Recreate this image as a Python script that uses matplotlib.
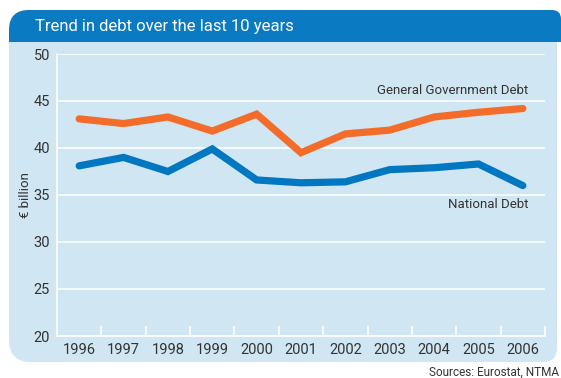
import matplotlib
matplotlib.use("Agg")
import matplotlib.pyplot as plt
from matplotlib.path import Path
from matplotlib.patches import PathPatch

years = ["1996", "1997", "1998", "1999", "2000", "2001",
         "2002", "2003", "2004", "2005", "2006"]
general_gov_debt = [43.1, 42.6, 43.3, 41.8, 43.6, 39.5, 41.5, 41.9, 43.3, 43.8, 44.2]
national_debt = [38.1, 39.0, 37.5, 39.9, 36.6, 36.3, 36.4, 37.7, 37.9, 38.3, 36.0]
y_ticks = [20, 25, 30, 35, 40, 45, 50]

FONT = ["DejaVu Sans Condensed", "Liberation Sans Narrow", "Roboto",
        "Liberation Sans", "DejaVu Sans"]
plt.rcParams["font.family"] = FONT

W, H = 561, 378
fig = plt.figure(figsize=(W / 100, H / 100), dpi=100)

HEADER_BLUE = "#0a7ac2"
BODY_BLUE = "#d0e7f3"
ORANGE = "#f36c2a"
LINE_BLUE = "#0077c0"
TEXT = "#333333"


def rounded_path(x0, y0, x1, y1, r_tl, r_tr, r_br, r_bl):
    """Rectangle in pixel coords (y downwards) with per-corner radii,
    returned as a Path in figure fractions."""
    def p(x, y):
        return (x / W, 1 - y / H)
    verts, codes = [], []
    verts.append(p(x0 + r_tl, y0)); codes.append(Path.MOVETO)
    verts.append(p(x1 - r_tr, y0)); codes.append(Path.LINETO)
    verts += [p(x1, y0), p(x1, y0 + r_tr)]; codes += [Path.CURVE3] * 2
    verts.append(p(x1, y1 - r_br)); codes.append(Path.LINETO)
    verts += [p(x1, y1), p(x1 - r_br, y1)]; codes += [Path.CURVE3] * 2
    verts.append(p(x0 + r_bl, y1)); codes.append(Path.LINETO)
    verts += [p(x0, y1), p(x0, y1 - r_bl)]; codes += [Path.CURVE3] * 2
    verts.append(p(x0, y0 + r_tl)); codes.append(Path.LINETO)
    verts += [p(x0, y0), p(x0 + r_tl, y0)]; codes += [Path.CURVE3] * 2
    verts.append(p(x0 + r_tl, y0)); codes.append(Path.CLOSEPOLY)
    return Path(verts, codes)


# panel body and header band, kept beneath the axes
fig.patches.append(PathPatch(rounded_path(9, 10, 557, 362, 20, 9, 14, 22),
                             transform=fig.transFigure, facecolor=BODY_BLUE,
                             edgecolor="none", zorder=-2))
fig.patches.append(PathPatch(rounded_path(9, 10, 561, 42, 20, 9, 0, 0),
                             transform=fig.transFigure, facecolor=HEADER_BLUE,
                             edgecolor="none", zorder=-1))
fig.text(35 / W, 1 - 27 / H, "Trend in debt over the last 10 years",
         color="white", fontsize=12, va="center", ha="left")

ax = fig.add_axes([57 / W, 1 - 336 / H, (545 - 57) / W, (336 - 54) / H])
ax.set_zorder(2)
ax.patch.set_alpha(0)
x = list(range(len(years)))

ax.plot(x, general_gov_debt, color=ORANGE, lw=5.2, solid_capstyle="round",
        solid_joinstyle="miter", zorder=3)
ax.plot(x, national_debt, color=LINE_BLUE, lw=5.2, solid_capstyle="round",
        solid_joinstyle="miter", zorder=3)

ax.set_xlim(-0.5, len(years) - 0.5)
ax.set_ylim(20, 50)
ax.set_yticks(y_ticks)
ax.set_yticklabels([str(v) for v in y_ticks])
ax.set_xticks(x)
ax.set_xticklabels(years)
ax.set_xticks([i + 0.5 for i in range(len(years))], minor=True)

ax.tick_params(axis="x", which="major", length=0, pad=5, labelsize=10.5,
               labelcolor=TEXT)
ax.tick_params(axis="x", which="minor", direction="in", length=7, width=1.2,
               color="white")
ax.tick_params(axis="y", length=0, pad=5, labelsize=10.5, labelcolor=TEXT)

ax.grid(axis="y", color="white", lw=1.1, zorder=1)
ax.set_axisbelow(True)
for side in ("top", "right"):
    ax.spines[side].set_visible(False)
for side in ("left", "bottom"):
    ax.spines[side].set_color("white")
    ax.spines[side].set_linewidth(1.2)

ax.set_ylabel("€ billion", fontsize=9.5, color=TEXT, labelpad=1)

ax.text(10.12, 46.1, "General Government Debt", ha="right", va="center",
        fontsize=9.5, color=TEXT)
ax.text(10.12, 34.0, "National Debt", ha="right", va="center",
        fontsize=9.5, color=TEXT)

fig.text(559 / W, 1 - 372 / H, "Sources: Eurostat, NTMA", ha="right",
         va="center", fontsize=8.5, color=TEXT)

fig.savefig("out.png", dpi=100)
